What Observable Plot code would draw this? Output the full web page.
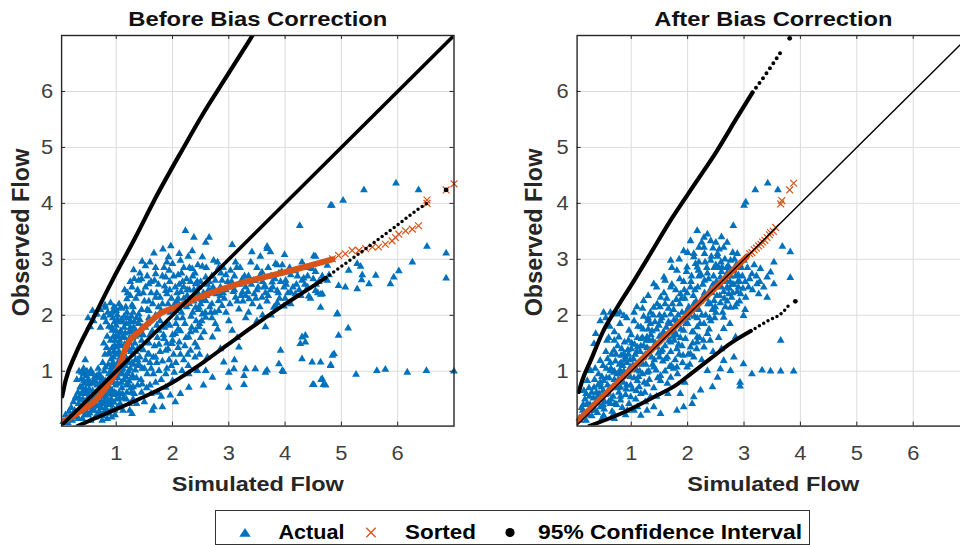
<!DOCTYPE html>
<html><head><meta charset="utf-8">
<script src="https://cdn.jsdelivr.net/npm/d3@7"></script>
<script src="https://cdn.jsdelivr.net/npm/@observablehq/plot@0.6"></script>
<style>
body{margin:0;background:#fff;}
#wrap{position:relative;width:960px;height:545px;overflow:hidden;background:#fff;font-family:"Liberation Sans",Arial,Helvetica,sans-serif;}
#p1{position:absolute;left:0;top:0;width:480px;}
#p2{position:absolute;left:480px;top:0;width:520px;}
#legend{position:absolute;left:215px;top:510px;}
#wrap svg{overflow:visible;max-width:none !important;}
</style></head>
<body><div id="wrap"><div id="p1"></div><div id="p2"></div><div id="legend"></div></div>
<script>
const xTicks = [1, 2, 3, 4, 5, 6];
const yTicks = [1, 2, 3, 4, 5, 6];
const panelTitles = ["Before Bias Correction", "After Bias Correction"];
const xLabel = "Simulated Flow";
const yLabel = "Observed Flow";
const legendLabels = ["Actual", "Sorted", "95% Confidence Interval"];

// ---------- Before bias correction ----------
const actualBefore = [
[0.06,0.1],[0.1,0.22],[0.14,0.08],[0.12,0.14],[0.18,0.2],[0.22,0.12],[0.26,0.3],[0.3,0.18],[0.33,0.42],[0.35,0.28],[0.38,0.6],[0.4,0.15],[0.41,0.5],[0.43,0.78],[0.45,0.35],[0.47,0.92],[0.49,0.62],[0.5,0.22],[0.52,0.45],[0.54,0.8],[0.55,1.02],[0.57,0.3],[0.58,0.65],[0.6,0.52],[0.62,0.9],[0.63,0.18],[0.65,0.38],[0.66,0.75],[0.68,1.05],[0.7,0.28],[0.71,0.58],[0.73,0.88],[0.74,0.45],[0.76,0.2],[0.78,0.7],[0.79,1.0],[0.81,0.35],[0.82,0.55],[0.84,0.82],[0.86,0.25],[0.87,0.95],[0.89,0.45],[0.9,0.68],[0.92,0.32],[0.94,0.58],[0.95,0.8],[0.36,0.72],[0.44,0.6],[0.52,0.68],[0.6,0.78],[0.46,0.45],[0.56,0.42],[0.68,0.48],[0.64,0.62],[0.72,0.72],[0.8,0.48],[0.88,0.6],[0.96,0.44],[0.98,0.22],[1.02,0.35],[0.5,0.85],[0.42,0.95],[0.48,1.0],[0.38,0.86],[0.32,0.62],[0.28,0.52],[0.24,0.45],[0.2,0.35],[0.16,0.28],[0.58,0.96],[0.66,0.92],[0.75,0.12],[0.84,0.15],[0.92,0.18],
[0.34,0.52],[0.37,0.35],[0.39,0.98],[0.44,0.22],[0.46,0.68],[0.51,0.55],[0.53,0.95],[0.55,0.12],[0.59,0.36],[0.61,0.6],[0.63,0.82],[0.67,0.22],[0.69,0.66],[0.7,0.95],[0.73,0.35],[0.75,0.55],[0.77,0.85],[0.79,0.28],[0.83,0.65],[0.85,0.45],[0.87,0.72],[0.89,0.9],[0.91,0.5],[0.93,1.0],[0.97,0.62],[0.99,0.75],[1.01,0.5],[1.03,0.88],[1.05,0.62],[1.07,0.42],[1.09,0.8],[1.11,0.95],[1.13,0.52],[1.17,0.9],[1.19,0.62],[1.23,0.82],[1.27,0.62],[1.29,0.92],
[0.33,0.15],[0.37,0.48],[0.41,0.62],[0.47,0.28],[0.49,0.42],[0.53,0.25],[0.57,0.55],[0.59,0.82],[0.61,0.3],[0.65,0.5],[0.67,0.88],[0.69,0.38],[0.71,0.78],[0.73,0.22],[0.75,0.65],[0.77,0.42],[0.79,0.6],[0.81,0.82],[0.83,0.25],[0.85,0.62],[0.87,0.4],[0.88,0.8],[0.9,1.0],[0.91,0.4],[0.93,0.65],[0.95,0.92],[0.97,0.3],[0.98,1.1],[1.0,0.6],[1.02,0.78],[1.04,1.05],[1.06,0.52],[1.08,0.95],[1.1,0.7],[1.12,0.3],[1.14,0.85],[1.16,1.1],[1.18,0.5],[1.2,0.78],[1.22,1.0],[1.24,0.3],[1.26,0.7],[1.28,1.15],[1.3,0.88],[1.32,0.6],[1.34,1.2],[1.36,0.42],[1.38,0.75],
[0.92,1.08],[0.95,1.25],[0.97,1.45],[0.99,1.62],[1.0,1.82],[1.02,2.0],[1.03,1.15],[1.05,1.35],[1.06,1.55],[1.08,1.72],[1.09,1.92],[1.1,2.12],[1.12,1.05],[1.13,1.28],[1.15,1.48],[1.16,1.68],[1.18,1.85],[1.19,2.05],[1.21,1.18],[1.22,1.4],[1.24,1.6],[1.25,1.78],[1.27,1.98],[1.28,2.18],[0.86,1.12],[0.88,1.35],[0.9,1.55],[0.92,1.78],[0.94,1.95],[0.96,2.15],[0.84,1.62],[0.82,1.88],[0.85,2.05],[0.78,1.98],[0.8,2.18],[0.72,2.1],[0.9,2.22],[1.0,2.08],[1.14,1.98],[1.2,1.52],[1.3,1.3],[1.33,1.5],[1.35,1.72],[1.32,1.88],[1.1,1.02],[1.0,1.0],[1.25,1.05],[1.38,1.1],
[0.91,1.22],[0.93,1.42],[0.95,1.62],[0.97,1.88],[0.99,2.12],[1.01,1.3],[1.04,1.48],[1.06,1.68],[1.07,1.88],[1.11,1.6],[1.14,1.78],[1.17,1.25],[1.19,1.44],[1.23,1.7],[1.26,1.88],[1.29,1.6],[1.31,1.78],[1.26,1.35],[1.3,2.05],[1.17,2.15],[1.05,2.2],[0.89,2.0],[0.87,1.8],[0.83,1.42],
[0.94,1.15],[0.96,1.35],[0.98,1.55],[1.0,1.72],[1.02,1.92],[1.04,1.62],[1.07,1.25],[1.09,1.45],[1.12,1.88],[1.15,1.6],[1.18,1.38],[1.2,1.95],[1.22,1.15],[1.24,1.5],[1.27,1.72],[1.29,1.42],[1.31,1.12],[1.34,1.62],[1.36,1.95],[1.38,1.4],[1.4,1.85],[1.42,1.25],[1.44,1.65],[1.46,1.05],
[0.52,1.8],[0.6,1.9],[0.66,2.02],[0.58,2.08],[0.5,1.95],[0.72,1.78],[0.78,1.5],[0.8,1.3],[0.76,1.15],[0.45,1.2],[0.42,1.05],[0.3,0.85],[0.34,1.0],[0.81,2.14],[0.93,2.05],[1.08,2.14],[0.63,2.02],[0.78,1.96],[0.54,1.79],
[0.45,0.95],[0.43,0.83],[0.4,0.71],[0.28,0.54],[0.48,0.6],[0.51,0.77],[0.93,1.73],[0.99,1.43],[0.87,1.31],[0.81,1.07],[0.93,0.83],[1.11,0.6],[1.23,0.42],[1.28,0.24],[1.67,0.36],[1.64,0.3],[1.82,0.36],[1.88,0.71],[1.96,0.57],[2.14,0.6],[2.29,0.71],[2.0,0.83],[2.17,1.01],[2.29,0.95],[1.76,1.01],[1.46,0.77],[1.4,1.13],[1.58,1.31],[1.88,1.37],[1.99,1.49],[2.29,1.61],[2.32,1.37],[2.41,1.73],[2.05,1.67],[1.76,1.73],[1.46,1.79],[1.25,1.9],[1.4,2.02],[1.58,2.08],[2.05,2.08],[2.41,2.14],[2.53,2.02],
[2.23,3.51],[2.38,3.39],[1.97,3.24],[1.83,3.18],[1.67,3.11],[2.35,3.15],[1.93,3.04],[2.14,2.98],[1.46,2.96],[1.31,2.81],[2.35,2.83],[1.7,2.74],[1.88,2.68],[1.4,2.62],[1.58,2.56],[2.05,2.5],[2.41,2.56],[1.28,2.5],[1.19,2.29],[1.4,2.38],[1.7,2.32],[1.88,2.44],[2.26,2.35],
[1.35,1.35],[1.45,1.55],[1.52,1.2],[1.55,0.95],[1.6,1.65],[1.62,0.6],[1.68,1.45],[1.72,1.15],[1.78,1.9],[1.85,1.58],[1.9,1.05],[1.92,2.2],[1.95,1.82],[2.02,1.3],[2.08,1.95],[2.1,2.3],[2.12,1.52],[2.18,2.6],[2.2,1.2],[2.22,1.85],[2.25,2.15],[2.3,2.45],[2.33,1.98],[2.36,2.7],[2.4,1.5],[2.45,2.4],[2.48,1.3],[1.5,2.25],[1.62,2.4],[1.75,2.55],[1.55,2.7],[1.85,2.85],[2.0,2.92],[2.1,2.72],[1.3,2.15],[1.42,1.92],[1.36,0.88],[1.45,0.62],[1.3,0.72],[1.34,1.02],[1.5,0.45],[1.7,0.8],[1.8,0.55],[2.05,0.45],[1.2,0.95],[1.18,0.75],[1.15,1.2],[1.3,0.5],[1.25,2.35],[1.6,2.95],[1.95,2.6],[2.2,2.85],[2.28,3.05],[1.75,2.15],[1.9,2.38],[2.15,2.42],[2.38,2.25],[2.45,2.9],[2.5,2.6],[2.52,2.28],
[1.38,1.2],[1.42,1.42],[1.48,1.65],[1.5,1.05],[1.55,1.85],[1.58,1.5],[1.6,0.75],[1.62,1.05],[1.66,1.25],[1.7,2.0],[1.73,1.6],[1.78,1.35],[1.8,0.85],[1.82,2.2],[1.86,1.78],[1.9,1.5],[1.94,1.2],[1.98,2.3],[2.0,1.65],[2.03,0.98],[2.06,1.85],[2.1,1.42],[2.14,1.72],[2.16,2.05],[2.2,2.5],[2.24,1.6],[2.27,1.3],[2.3,2.2],[2.34,1.78],[2.38,2.45],[2.42,1.9],[2.46,2.1],[2.5,1.6],[1.45,2.1],[1.52,2.5],[1.65,2.2],[1.68,2.62],[1.78,2.32],[1.82,2.7],[1.95,2.45],[2.02,2.7],[2.08,2.25],[2.12,2.55],[2.2,2.3],[2.25,2.65],[2.32,2.6],[2.4,2.75],[1.38,2.45],[1.42,2.75],[1.55,2.1],[1.25,2.6],[1.15,2.45],
[1.44,0.85],[1.48,1.38],[1.52,1.78],[1.54,0.7],[1.56,1.3],[1.58,1.95],[1.6,1.15],[1.64,1.72],[1.66,0.95],[1.7,1.25],[1.72,1.82],[1.74,0.62],[1.76,1.48],[1.8,2.08],[1.82,1.18],[1.84,1.65],[1.88,0.95],[1.9,1.85],[1.92,1.4],[1.96,2.05],[1.98,1.1],[2.0,1.55],[2.04,2.2],[2.06,1.15],[2.1,1.75],[2.14,1.3],[2.18,1.95],[2.22,1.45],[2.26,2.45],[2.28,1.1],[2.32,1.7],[2.36,2.05],[2.4,1.25],[2.44,2.6],[2.48,1.85],[1.48,2.4],[1.58,2.25],[1.62,2.6],[1.72,2.4],[1.86,2.52],[1.94,2.8],[2.08,2.4],[2.16,2.75],[2.3,2.85],[2.42,2.35],[1.35,2.3],[1.45,2.65],[1.52,2.88],[1.7,2.85],[1.9,2.95],[2.12,3.1],[1.2,2.4],[1.32,2.65],
[4.81,3.96],[4.26,3.6],[2.65,3.39],[2.59,3.3],[3.06,3.26],[3.68,3.23],[3.41,3.13],[3.74,3.13],[3.56,3.05],[3.99,3.08],[4.54,3.05],[2.53,3.04],[2.73,2.98],[3.12,2.95],[3.39,2.95],[3.83,2.92],[2.53,2.87],[2.82,2.85],[3.03,2.8],[3.59,2.77],[3.89,2.75],[4.18,2.79],[4.48,2.83],[4.75,2.89],[2.59,2.68],[2.88,2.62],[3.24,2.65],[3.47,2.62],[3.77,2.59],[4.01,2.62],[4.3,2.62],[2.47,2.5],[2.71,2.44],[3.0,2.5],[3.24,2.41],[3.5,2.45],[3.65,2.51],[3.86,2.44],[3.98,2.5],[4.18,2.38],[4.54,2.44],[4.66,2.38],[2.59,2.26],[2.82,2.26],[3.12,2.32],[3.36,2.29],[3.59,2.32],[3.83,2.17],[2.47,2.14],[2.68,2.05],[2.88,2.17],[3.18,2.11],[3.42,2.2],[3.8,2.14],[4.63,2.14],[2.59,1.96],[2.76,1.85],[3.06,1.73],[3.65,1.79],[2.47,1.79],[2.71,1.61],[4.3,1.61],[4.36,1.64],[2.44,1.43],[3.18,1.43],[4.27,1.49],[3.92,1.37],[4.3,1.22],[3.89,1.13],[4.63,1.16],[4.84,1.28],[2.91,1.16],[2.44,1.01],[2.59,1.01],[3.0,0.98],[3.09,1.04],[3.3,1.04],[3.47,1.04],[3.65,0.98],[3.95,1.01],[3.27,0.92],[2.71,0.89],[3.0,0.71],[3.27,0.76],[4.51,0.76],[4.66,0.86],[4.81,1.1],
[2.55,2.4],[2.62,2.55],[2.7,2.7],[2.78,2.38],[2.85,2.5],[2.92,2.3],[2.95,2.72],[2.66,2.15],[2.75,2.05],[2.5,2.2],[2.6,2.85],[2.8,2.95],[3.05,2.6],[3.15,2.25],[3.3,2.5],[3.45,2.38],[3.6,2.6],[3.7,2.35],[3.55,2.15],[3.35,2.7],[3.2,2.85],[3.9,2.3],[4.05,2.4],[4.1,2.2],[4.2,2.55],[4.4,2.5],[3.7,2.85],[3.95,2.9],[4.3,2.95],[4.6,2.6],[4.45,2.3],
[2.6,2.35],[2.72,2.5],[2.85,2.35],[2.95,2.45],[3.08,2.42],[3.2,2.55],[3.3,2.35],[3.4,2.55],[3.52,2.5],[3.65,2.4],[3.78,2.5],[3.92,2.6],[2.65,2.6],[2.9,2.85],[3.1,2.7],[3.25,2.25],[3.5,2.85],[3.75,2.7],[2.7,1.95],[2.95,2.05],[3.3,1.95],[3.6,2.0],[4.0,2.3],[4.25,2.45],[4.4,2.7],[4.55,2.55],
[2.52,1.9],[2.58,2.05],[2.64,2.45],[2.7,2.2],[2.76,2.62],[2.82,2.08],[2.86,2.75],[2.9,2.4],[2.98,2.6],[3.02,2.2],[3.1,2.45],[3.14,2.85],[3.22,2.35],[3.28,2.7],[3.34,2.42],[3.44,2.62],[3.48,2.3],[3.56,2.72],[3.62,2.5],[3.68,2.25],[3.74,2.45],[3.82,2.65],[3.88,2.4],[3.94,2.78],[4.02,2.55],[4.08,2.85],[4.14,2.5],[4.22,2.7],[4.28,2.35],[4.35,2.55],[4.42,2.85],[4.5,2.65],[4.58,2.4],[4.66,2.7],[2.56,1.7],[2.8,1.75],[3.0,1.9],[3.15,1.6],[3.35,2.05],[3.5,1.9],[3.75,2.0],[2.62,1.25],[2.85,1.4],[3.1,1.2],[2.55,0.75],
[5.4,4.24],[5.97,4.36],[6.37,4.24],[4.83,3.96],[5.03,4.05],[6.52,3.23],[6.86,3.11],[6.26,2.95],[6.86,2.66],[5.13,2.8],[5.28,2.92],[5.34,2.87],[5.36,2.63],[5.49,2.56],[5.61,2.71],[5.07,2.5],[5.87,2.56],[5.93,2.68],[6.02,2.79],[4.75,2.62],[4.92,2.02],[4.95,1.64],[5.12,1.77],[4.87,1.31],[4.81,1.11],[4.72,0.75],[5.26,0.94],[5.63,1.01],[5.78,1.03],[6.17,0.98],[6.51,1.01],[7.0,1.0],
[3.97,0.99],[3.68,1.02],[4.63,2.37],[4.42,2.34],[4.36,1.52],[4.49,0.76],[4.68,0.76],[4.64,0.85],[4.93,2.03],[4.48,1.16],[3.68,3.19],[3.86,2.9],[4.1,2.72],[4.33,2.66],[4.54,2.78],[4.51,3.06],[3.86,2.22],[3.98,2.16],[4.1,2.41],[4.78,2.72],[4.95,2.53],[5.28,2.47],[5.37,2.72]
];
const sortedBandBefore = [[0.03,0.08],[0.31,0.25],[0.6,0.45],[0.8,0.68],[0.96,0.92],[1.08,1.15],[1.15,1.37],[1.25,1.56],[1.4,1.7],[1.62,1.9],[1.8,2.04],[2.05,2.14],[2.4,2.29],[2.8,2.44],[3.1,2.54],[3.5,2.65],[4.0,2.77],[4.4,2.88],[4.84,3.0]];
const sortedBefore = [[4.84,3.01],[4.95,3.07],[5.07,3.1],[5.19,3.16],[5.31,3.16],[5.43,3.19],[5.55,3.22],[5.66,3.22],[5.78,3.27],[5.9,3.33],[5.96,3.39],[6.02,3.45],[6.14,3.51],[6.26,3.54],[6.37,3.6],[6.52,4.0],[6.52,4.06],[6.86,4.24],[7.0,4.35]];
const ciUpperBefore = [[0.04,0.55],[0.1,0.83],[0.28,1.31],[0.57,1.9],[0.93,2.62],[1.34,3.39],[1.7,4.1],[2.17,4.95],[2.53,5.58],[2.95,6.25],[3.42,7.0]];
const ciLowerBefore = [[0.31,0.02],[0.81,0.24],[1.4,0.5],[2.0,0.8],[2.56,1.17],[3.0,1.49],[4.0,2.2],[4.4,2.46],[4.72,2.67]];
const ciLowerBeforeSparse = [[4.72,2.67],[5.31,3.1],[5.9,3.54],[6.37,3.9],[6.52,4.0]];
const ciDotsBefore = [[6.86,4.24]];
const diagBefore = [[0.03,0.03],[7,7]];

// ---------- After bias correction ----------
const actualAfter = [
[2.17,3.51],[2.29,3.39],[2.05,3.33],[2.2,3.21],[1.93,3.15],[2.11,3.04],[1.7,2.98],[1.81,2.8],[1.58,2.68],[1.99,2.86],[1.4,2.56],[1.7,2.5],[1.52,2.32],[1.87,2.38],[1.22,2.26],[1.4,2.14],[0.51,2.05],[0.63,2.05],[0.75,2.02],[0.45,1.9],[0.37,1.67],[0.34,1.49],[0.87,1.99],[1.05,1.9],[0.96,1.73],[0.78,1.61],[0.57,1.55],[0.69,1.37],[0.45,1.19],[0.87,1.31],[1.11,1.43],[1.28,1.61],[1.34,1.85],[1.17,1.79],[1.52,1.9],[1.7,2.02],[1.81,1.9],[1.99,2.08],[2.11,2.2],[1.93,1.73],[1.58,1.67],[1.76,1.55],[1.46,1.43],[1.64,1.25],[1.81,1.07],[1.99,1.07],[2.11,1.25],[2.05,1.43],[2.17,1.61],[1.4,1.07],[1.22,1.25],[0.99,1.07],[0.81,0.95],[0.63,1.01],[0.28,1.01],[0.22,0.83],[0.16,0.65],[0.34,0.71],[0.51,0.83],[0.4,0.54],[0.57,0.6],[0.81,0.71],[1.11,0.83],[1.28,0.77],[1.52,0.83],[1.7,0.89],[1.17,0.6],[1.34,0.54],[1.93,0.36],[1.81,0.3],[1.52,0.24],[1.28,0.3],[1.17,0.21],[0.93,0.3],[0.69,0.24],[0.51,0.21],[0.81,0.48],[0.99,0.54],[0.28,0.3],[0.16,0.24],[0.1,0.12],[0.45,0.36],[0.63,0.42],[1.11,0.36],[1.4,0.36],[1.87,0.6],
[3.42,4.36],[3.2,4.24],[3.6,4.24],[3.03,4.02],[3.0,3.96],[2.81,3.6],[3.68,3.23],[3.82,3.13],[3.53,2.95],[3.82,2.67],[3.47,2.77],[3.41,2.68],[3.29,2.83],[3.23,2.56],[3.14,2.74],[3.08,2.5],[2.94,2.38],[3.03,2.32],[2.7,2.5],[2.58,2.68],[2.41,2.98],[2.29,3.21],[2.41,3.33],[2.64,3.21],[2.53,3.1],[2.11,3.1],[2.17,2.86],[2.76,2.98],[2.88,3.1],[3.0,2.98],[2.82,2.8],[2.61,2.86],[2.47,2.26],[2.76,2.14],[2.99,1.99],[2.64,1.96],[2.41,1.9],[2.17,1.79],[2.35,1.67],[2.64,1.76],[2.85,1.61],[2.17,1.52],[2.05,1.31],[2.29,1.43],[2.82,1.25],[2.99,1.13],[2.64,1.19],[2.35,1.01],[2.58,1.04],[2.76,1.01],[3.14,0.95],[3.32,1.02],[3.47,1.0],[3.65,1.0],[3.88,1.0],[2.93,0.8],[2.93,0.73],[2.44,0.72],[2.23,0.66],[2.11,0.54],[2.08,0.42],[2.53,0.89],[3.65,1.55],[3.26,2.38],[3.41,2.32],[3.53,2.56],[2.6,3.4],[2.7,3.3],
[0.08,0.16],[0.14,0.3],[0.2,0.12],[0.22,0.42],[0.26,0.55],[0.3,0.2],[0.32,0.38],[0.35,0.85],[0.38,0.62],[0.4,0.26],[0.42,0.95],[0.44,0.48],[0.47,0.72],[0.5,1.1],[0.52,0.32],[0.54,0.58],[0.56,0.88],[0.58,1.22],[0.6,0.45],[0.62,0.7],[0.64,1.05],[0.66,0.28],[0.68,0.55],[0.7,0.85],[0.72,1.18],[0.74,0.4],[0.76,1.45],[0.78,0.62],[0.8,1.02],[0.82,1.28],[0.84,0.35],[0.86,0.8],[0.88,1.52],[0.9,0.58],[0.92,1.15],[0.94,1.38],[0.96,0.42],[0.98,0.9],[1.0,1.65],[1.02,0.68],[1.04,1.22],[1.06,1.48],[1.08,0.5],[1.1,1.02],[1.12,1.8],[1.14,0.72],[1.16,1.35],[1.18,1.58],[1.2,0.95],[1.22,1.98],[1.24,0.62],[1.26,1.12],[1.28,1.42],[1.3,1.75],[1.32,0.85],[1.34,2.05],[1.36,1.25],[1.38,1.55],[1.4,0.7],[1.42,1.88],[1.44,1.02],[1.46,2.2],[1.48,1.32],[1.5,1.62],[1.52,0.92],[1.54,1.95],[1.56,1.18],[1.58,2.4],[1.6,1.45],[1.62,1.78],[1.64,0.78],[1.66,2.12],[1.68,1.08],[1.7,1.35],[1.72,2.55],[1.74,1.62],[1.76,1.92],[1.78,1.2],[1.8,2.28],[1.82,0.95],[1.84,1.48],[1.86,2.65],[1.88,1.75],[1.9,2.05],[1.92,1.28],[1.94,2.45],[1.96,1.58],[1.98,2.78],[2.0,1.85],[2.02,2.15],[2.04,1.12],[2.06,2.6],[2.08,1.7],[2.1,2.35],[2.12,1.98],[2.14,2.92],[2.16,1.4],[2.18,2.5],[2.2,2.1],[2.22,1.85],[2.24,2.72],[2.26,2.3],[2.28,1.55],[2.3,2.62],[2.32,2.0],[2.34,2.85],[2.36,2.2],[2.38,1.75],[2.4,2.45],[2.42,3.05],[2.44,2.1],[2.46,2.7],[2.48,1.95],[2.5,2.9],[2.52,2.35],[2.54,2.55],[2.56,3.18],[2.58,2.22],[2.6,2.78],[2.62,2.05],[2.64,2.42],[2.66,3.0],[2.68,2.62],[2.7,2.25],[2.72,2.88],[2.74,2.48],[2.76,2.7],[2.78,2.32],[2.8,3.12],[2.82,2.55],[2.84,2.15],[2.86,2.9],[2.88,2.42],[2.9,2.72],[2.92,2.6],[2.95,2.85],[2.98,2.48],
[0.25,0.7],[0.18,0.5],[0.36,1.05],[0.48,0.15],[0.55,1.35],[0.65,1.3],[0.7,0.15],[0.75,0.95],[0.85,1.1],[0.9,0.22],[0.95,1.55],[1.05,0.3],[1.15,1.0],[1.25,0.45],[1.35,1.65],[1.45,0.55],[1.55,1.38],[1.65,0.6],[1.75,1.05],[1.85,1.3],[1.95,0.8],[0.6,1.6],[0.7,1.7],[0.8,1.85],[0.92,1.95],[1.05,2.05],[1.2,2.12],[1.3,2.35],[1.45,2.5],[1.6,2.62],[1.72,2.85],[1.85,3.0],[2.0,3.12],[2.25,3.3],[2.35,3.45],[2.5,3.3],
[0.15,0.4],[0.24,0.22],[0.3,0.62],[0.38,0.45],[0.45,0.8],[0.5,0.4],[0.58,0.75],[0.64,0.5],[0.7,1.0],[0.76,0.7],[0.82,1.15],[0.88,0.95],[0.92,0.75],[0.98,1.2],[1.05,0.88],[1.1,1.35],[1.15,1.12],[1.22,1.45],[1.28,0.98],[1.32,1.55],[1.38,1.12],[1.45,1.75],[1.5,1.25],[1.55,1.6],[1.6,1.0],[1.66,1.88],[1.7,1.52],[1.75,2.1],[1.8,1.65],[1.86,2.2],[1.9,1.45],[1.95,2.3],[2.0,1.95],[2.05,2.5],[2.1,1.7],[2.15,2.25],[2.2,2.7],[2.25,2.0],[2.3,2.4],[2.35,2.75],[2.4,2.2],[2.45,2.55],[2.5,2.05],[2.55,2.85],[2.6,2.5],[2.65,2.3],[2.7,2.75],[2.75,2.6],[2.8,2.4],[2.85,2.7],[2.9,2.5],[2.2,2.95],[2.3,3.1],[2.45,3.2],[1.6,2.2],[1.5,2.0],[1.2,1.6],[1.3,1.95],[1.0,1.4],[0.9,1.25],[0.7,1.55],[0.62,1.8],[0.55,1.95],[0.8,2.05],[1.1,2.15],
[0.12,0.35],[0.18,0.22],[0.2,0.6],[0.27,0.4],[0.33,0.52],[0.36,0.3],[0.41,0.75],[0.43,0.6],[0.48,0.9],[0.5,0.65],[0.53,0.45],[0.56,1.05],[0.59,0.62],[0.61,0.88],[0.63,1.15],[0.67,0.72],[0.69,0.98],[0.71,0.42],[0.73,1.3],[0.77,0.85],[0.79,1.12],[0.81,0.55],[0.83,1.4],[0.87,1.0],[0.89,1.2],[0.91,0.68],[0.95,1.3],[0.97,1.05],[0.99,0.75],[1.01,1.5],[1.03,1.1],[1.07,1.3],[1.09,0.65],[1.11,1.6],[1.13,0.9],[1.17,1.45],[1.19,1.15],[1.21,1.75],[1.23,0.8],[1.25,1.3],[1.27,1.55],[1.29,1.9],[1.31,1.0],[1.33,1.38],[1.37,1.72],[1.39,2.0],[1.41,1.2],[1.43,1.5],[1.47,0.88],[1.49,1.82],[1.51,2.15],[1.53,1.35],[1.57,1.7],[1.59,2.0],[1.61,1.22],[1.63,2.3],[1.67,1.55],[1.69,1.85],[1.71,1.1],[1.73,2.2],[1.77,1.7],[1.79,2.45],[1.81,1.4],[1.83,2.0],[1.87,1.6],[1.89,2.3],[1.91,1.15],[1.93,2.6],[1.97,1.85],[1.99,2.4],[2.01,1.3],[2.03,2.0],[2.07,2.7],[2.09,1.5],[2.11,2.15],[2.13,2.45],[2.17,1.95],[2.19,2.8],[2.21,1.6],[2.23,2.25],[2.27,2.55],[2.29,1.85],[2.31,2.95],[2.33,2.3],[2.37,2.65],[2.39,1.95],[2.43,2.4],[2.47,2.85],[2.49,2.15],[2.51,2.6],[2.53,3.05],[2.57,2.35],[2.59,2.95],[2.63,2.6],[2.67,2.15],[2.69,2.85],[2.73,2.38],[2.77,2.8],[2.79,2.55],[2.83,3.0],[2.87,2.2],[2.89,2.6],[2.93,2.9],[2.97,2.7],[3.02,2.6],[3.06,2.85],[3.1,2.65],[3.15,2.45],[3.18,2.9],[3.22,2.7],[3.28,2.6],[3.35,2.5],[3.02,2.1],[2.92,2.25],[2.75,1.85],[2.55,1.6],[2.45,1.35],[2.25,1.2],[2.4,1.55],[2.6,1.4]
];
const sortedBandAfter = [[0.04,0.1],[0.5,0.55],[1.0,1.03],[1.5,1.52],[2.0,2.01],[2.5,2.5],[3.05,3.05]];
const sortedAfter = [[3.1,3.1],[3.14,3.12],[3.18,3.17],[3.22,3.2],[3.26,3.24],[3.3,3.27],[3.33,3.31],[3.37,3.34],[3.41,3.39],[3.45,3.44],[3.47,3.48],[3.52,3.5],[3.56,3.57],[3.65,3.99],[3.67,4.05],[3.81,4.24],[3.88,4.36]];
const ciUpperAfter = [[0.07,0.63],[0.13,0.83],[0.28,1.19],[0.51,1.73],[0.75,2.14],[1.05,2.62],[1.34,3.1],[1.7,3.7],[2.17,4.41],[2.52,4.94],[2.88,5.54],[3.15,5.98]];
const ciUpperAfterSparse = [[3.15,5.98],[3.47,6.43],[3.65,6.7]];
const ciLowerAfter = [[0.25,0.02],[0.81,0.24],[1.4,0.54],[1.82,0.77],[2.05,0.95],[2.41,1.23],[2.76,1.5],[3.12,1.72]];
const ciLowerAfterSparse = [[3.12,1.72],[3.42,1.9],[3.68,2.05],[3.82,2.21]];
const ciDotsAfter = [[3.81,6.95],[3.91,2.25]];
const diagAfter = [[0.04,0.04],[7,7]];

const C_BLUE = "#0072BD", C_ORANGE = "#D95319";
const stretchTargets = {"Before Bias Correction": 259, "After Bias Correction": 238, "Simulated Flow": 172};

function panel(o) {
  const H = 500, mt = 35, mb = 74.4;
  const fh = H - mt - mb;
  const fw = o.width - o.ml - o.mr;
  const X = d => d[0], Y = d => d[1];
  const tickC = "#262626";
  return Plot.plot({
    width: o.width, height: H,
    marginLeft: o.ml, marginRight: o.mr, marginTop: mt, marginBottom: mb,
    x: {domain: o.xDomain},
    y: {domain: [0.02, 7]},
    style: {fontFamily: "'Liberation Sans', Arial, Helvetica, sans-serif", fontSize: "19.5px", background: "transparent", overflow: "visible", maxWidth: "none"},
    marks: [
      Plot.ruleX(xTicks, {stroke: "#dcdcdc", strokeWidth: 1}),
      Plot.ruleY(yTicks, {stroke: "#dcdcdc", strokeWidth: 1}),
      Plot.dot(o.actual, {x: X, y: Y, symbol: "triangle", r: 2.9, fill: C_BLUE}),
      Plot.line(o.sortedBand, {x: X, y: Y, stroke: C_ORANGE, strokeWidth: 6, curve: "monotone-x", clip: true}),
      Plot.dot(o.sorted, {x: X, y: Y, symbol: "times", r: 3.2, stroke: C_ORANGE, strokeWidth: 1.2}),
      Plot.line(o.ciUpper, {x: X, y: Y, stroke: "#000", strokeWidth: 4.2, curve: "monotone-x", clip: true}),
      o.ciUpperSparse ? Plot.line(o.ciUpperSparse, {x: X, y: Y, stroke: "#000", strokeWidth: 4, strokeDasharray: "0,6", strokeLinecap: "round", curve: "monotone-x"}) : null,
      Plot.line(o.ciLower, {x: X, y: Y, stroke: "#000", strokeWidth: 4, curve: "monotone-x", clip: true}),
      Plot.line(o.ciLowerSparse, {x: X, y: Y, stroke: "#000", strokeWidth: 3.5, strokeDasharray: "0,5", strokeLinecap: "round", curve: "monotone-x"}),
      Plot.dot(o.ciDots, {x: X, y: Y, r: 2.4, fill: "#000"}),
      Plot.line(o.diag, {x: X, y: Y, stroke: "#000", strokeWidth: o.diagWidth, clip: true}),
      Plot.frame({stroke: "#262626", strokeWidth: 1.4}),
      Plot.ruleX(xTicks, {stroke: tickC, insetTop: fh - 4}),
      Plot.ruleX(xTicks, {stroke: tickC, insetBottom: fh - 4}),
      Plot.ruleY(yTicks, {stroke: tickC, insetRight: fw - 4}),
      Plot.ruleY(yTicks, {stroke: tickC, insetLeft: fw - 4}),
      Plot.axisX({ticks: xTicks, tickFormat: d => String(d), tickSize: 0, tickPadding: 19.6, label: null, fill: "#404040", fontSize: 19.5}),
      Plot.axisY({ticks: yTicks, tickFormat: d => String(d), tickSize: 0, tickPadding: 8.5, label: null, fill: "#404040", fontSize: 19.5}),
      Plot.text([o.title], {text: d => d, frameAnchor: "top", dy: -10, lineAnchor: "bottom", fontSize: 20.5, fontWeight: "bold", fill: "#111"}),
      Plot.text([xLabel], {text: d => d, frameAnchor: "bottom", dy: 64.4, lineAnchor: "bottom", fontSize: 21, fontWeight: "bold", fill: "#262626"}),
      Plot.text([yLabel], {text: d => d, frameAnchor: "left", textAnchor: "middle", rotate: -90, dx: o.yLabelDx, dy: 1.7, lineAnchor: "bottom", fontSize: 23.4, fontWeight: "bold", fill: "#262626"})
    ]
  });
}

function stretch(svg) {
  svg.querySelectorAll("text").forEach(t => {
    const s = t.textContent;
    let target = null;
    if (stretchTargets[s]) target = stretchTargets[s];
    else if (/^\d$/.test(s)) target = t.getComputedTextLength() * 1.12;
    if (target) { t.setAttribute("textLength", target); t.setAttribute("lengthAdjust", "spacingAndGlyphs"); }
  });
}

const p1 = panel({title: panelTitles[0], width: 480, ml: 61.1, mr: 26.5, xDomain: [0.03, 7], yLabelDx: -32.1,
  actual: actualBefore, sortedBand: sortedBandBefore, sorted: sortedBefore, ciUpper: ciUpperBefore, ciUpperSparse: null,
  ciLower: ciLowerBefore, ciLowerSparse: ciLowerBeforeSparse, ciDots: ciDotsBefore, diag: diagBefore, diagWidth: 3.6});
const p2 = panel({title: panelTitles[1], width: 520, ml: 96.6, mr: 30.9, xDomain: [0.04, 7], yLabelDx: -35.1,
  actual: actualAfter, sortedBand: sortedBandAfter, sorted: sortedAfter, ciUpper: ciUpperAfter, ciUpperSparse: ciUpperAfterSparse,
  ciLower: ciLowerAfter, ciLowerSparse: ciLowerAfterSparse, ciDots: ciDotsAfter, diag: diagAfter, diagWidth: 1.4});
document.getElementById("p1").appendChild(p1);
document.getElementById("p2").appendChild(p2);
stretch(p1); stretch(p2);

// legend
const lg = d3.select("#legend").append("svg").attr("width", 596).attr("height", 36)
  .style("font-family", "'Liberation Sans', Arial, Helvetica, sans-serif");
lg.append("rect").attr("x", 0.5).attr("y", 0.5).attr("width", 594).attr("height", 34)
  .attr("fill", "#fff").attr("stroke", "#333").attr("stroke-width", 1);
lg.append("path").attr("d", "M30,18 L35.7,26.8 L24.3,26.8 Z").attr("fill", C_BLUE);
lg.append("path").attr("d", "M151.3,17.8 L160.7,27.2 M160.7,17.8 L151.3,27.2").attr("stroke", C_ORANGE).attr("stroke-width", 1.3);
lg.append("circle").attr("cx", 295).attr("cy", 22.5).attr("r", 4.6).attr("fill", "#000");
const lgText = [[63.5, 66], [190, 71], [323, 264]];
legendLabels.forEach((s, i) => {
  lg.append("text").attr("x", lgText[i][0]).attr("y", 29.3).attr("font-size", 20).attr("font-weight", "bold")
    .attr("fill", "#000").attr("textLength", lgText[i][1]).attr("lengthAdjust", "spacingAndGlyphs").text(s);
});
</script>
</body></html>
